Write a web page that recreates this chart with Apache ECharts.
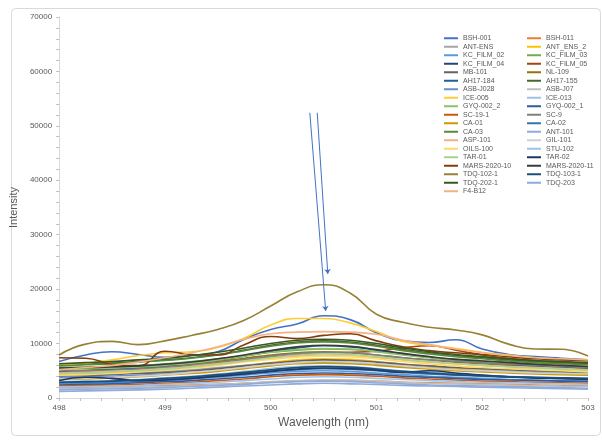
<!DOCTYPE html>
<html><head><meta charset="utf-8">
<script src="https://cdn.jsdelivr.net/npm/echarts@6/dist/echarts.min.js"></script>
<style>html,body{margin:0;padding:0;background:#fff}#c{width:602px;height:440px}</style>
</head><body><div id="c"></div>
<script>
const wavelengths = [498,498.25,498.5,498.75,499,499.25,499.5,499.75,500,500.25,500.5,500.75,501,501.25,501.5,501.75,502,502.25,502.5,502.75,503];
const xTicks = [498,499,500,501,502,503];
const yTicks = [0,10000,20000,30000,40000,50000,60000,70000];

const seriesNames = ["BSH-001","BSH-011","ANT-ENS","ANT_ENS_2","KC_FILM_02","KC_FILM_03","KC_FILM_04","KC_FILM_05","MB-101","NL-109","AH17-184","AH17-155","ASB-J028","ASB-J07","ICE-005","ICE-013","GYQ-002_2","GYQ-002_1","SC-19-1","SC-9","CA-01","CA-02","CA-03","ANT-101","ASP-101","GIL-101","OILS-100","STU-102","TAR-01","TAR-02","MARS-2020-10","MARS-2020-11","TDQ-102-1","TDQ-103-1","TDQ-202-1","TDQ-203","F4-B12"];
const seriesColors = ["#4472C4","#ED7D31","#A5A5A5","#FFC000","#5B9BD5","#70AD47","#264478","#9E480E","#636363","#997300","#255E91","#43682B","#698ED0","#BFBFBF","#FFCD33","#9DC3E6","#8CC168","#335AA1","#C55A11","#7F7F7F","#CC9A00","#2E75B6","#5A8A39","#8FAADC","#F4B183","#D0D0D0","#FFD966","#9DC3E6","#A9D18E","#1F3864","#843C0C","#3A3A3A","#958235","#1F4E79","#385723","#8FAADC","#F4B183"];

const BSH_001 = [6700,7900,8500,8000,7500,7800,8500,10800,12600,13600,15100,14400,12000,10500,10200,10700,9000,8000,7600,7300,7000];
const BSH_011 = [1900,2000,2100,2200,2300,2400,2500,2700,2900,3100,3200,3200,3100,2900,2800,2700,2600,2500,2400,2300,2200];
const ANT_ENS = [4300,4400,4500,4700,4900,5200,5600,6000,6400,6700,6800,6700,6400,6000,5700,5400,5200,5000,4800,4700,4500];
const ANT_ENS_2 = [3600,3700,3900,4100,4400,4800,5300,5900,6500,7000,7200,7100,6700,6200,5800,5400,5100,4800,4600,4400,4200];
const KC_FILM_02 = [2600,2700,2800,3000,3200,3500,3800,4200,4600,4900,5000,4900,4600,4300,4000,3800,3600,3400,3300,3200,3100];
const KC_FILM_03 = [5600,5700,5800,6000,6300,6700,7200,7800,8400,8800,9000,8900,8500,8000,7500,7100,6800,6500,6200,6000,5800];
const KC_FILM_04 = [3300,3900,3600,3300,3400,3700,4100,4600,5200,5600,5800,5600,5200,4800,4500,4300,4100,3900,3700,3600,3500];
const KC_FILM_05 = [4700,4800,4900,5100,5400,5800,6300,6900,7500,8000,8300,8400,8600,9200,9600,8800,7900,7300,6900,6600,6300];
const MB_101 = [4000,4100,4300,4500,4700,5000,5400,5900,6400,6800,7000,6900,6600,6200,5900,5600,5400,5200,5000,4900,4700];
const NL_109 = [5000,5100,5300,5500,5800,6200,6700,7300,7900,8300,8500,8300,7900,7400,7000,6600,6300,6000,5800,5600,5400];
const AH17_184 = [4900,5000,5200,5500,5900,6400,7000,7700,8500,9200,9600,9400,8800,8100,7500,7000,6600,6200,5900,5700,5500];
const AH17_155 = [6000,6200,6400,6700,7000,7400,8000,8800,9700,10300,10500,10300,9700,8900,8300,7800,7400,7000,6700,6500,6300];
const ASB_J028 = [3800,3900,4000,4200,4400,4700,5100,5600,6100,6500,6600,6500,6200,5800,5500,5200,5000,4800,4600,4500,4400];
const ASB_J07 = [1700,1800,1900,2000,2100,2300,2500,2700,3000,3200,3300,3300,3100,2900,2700,2600,2500,2400,2300,2200,2100];
const ICE_005 = [6000,6400,7000,7800,8300,8500,9300,11000,13400,14600,14600,13800,12200,10400,9700,9100,8400,7900,7400,7100,6700];
const ICE_013 = [3000,3100,3200,3400,3700,4000,4400,4900,5400,5800,5900,5800,5400,5000,4700,4400,4200,4000,3800,3700,3600];
const GYQ_002_2 = [5300,5400,5500,5700,6000,6400,7000,7700,8400,8900,9100,9000,8500,7900,7400,7000,6700,6400,6100,5900,5700];
const GYQ_002_1 = [2400,2500,2600,2800,3000,3200,3500,3800,4200,4500,4600,4500,4300,4000,3800,3600,3400,3300,3200,3100,3000];
const SC_19_1 = [2200,2300,2400,2500,2700,2900,3200,3500,3900,4200,4300,4200,4000,3700,3500,3300,3100,3000,2900,2800,2700];
const SC_9 = [5000,5000,5100,5300,5600,6000,6500,7100,7700,8200,8400,8300,7900,7400,7000,6700,6400,6200,6000,5800,5600];
const CA_01 = [3400,3500,3700,3900,4200,4500,4900,5400,5900,6300,6400,6300,6000,5600,5300,5000,4800,4600,4400,4300,4200];
const CA_02 = [2800,2900,3000,3200,3400,3700,4000,4400,4900,5200,5400,5300,5000,4700,4400,4200,4000,3800,3700,3600,3500];
const CA_03 = [5900,6100,6300,6600,6900,7300,7900,8700,9500,10100,10300,10100,9500,8700,8100,7600,7200,6800,6500,6300,6100];
const ANT_101 = [1500,1600,1700,1800,1900,2100,2300,2500,2800,3000,3100,3000,2800,2600,2400,2300,2200,2100,2000,1900,1800];
const ASP_101 = [4600,4700,4900,5100,5400,5800,6300,6800,7300,7700,7800,7700,7400,7000,6600,6300,6000,5800,5600,5400,5200];
const GIL_101 = [3500,3600,3800,4000,4300,4700,5100,5600,6100,6500,6700,6600,6300,5900,5500,5200,5000,4800,4600,4500,4400];
const OILS_100 = [4200,4300,4500,4800,5100,5500,6000,6600,7100,7500,7700,7600,7200,6700,6300,5900,5600,5400,5200,5000,4800];
const STU_102 = [2000,2100,2200,2300,2500,2700,2900,3200,3500,3800,3900,3800,3600,3400,3200,3000,2900,2800,2700,2600,2500];
const TAR_01 = [4500,4600,4800,5000,5300,5700,6200,6800,7400,7900,8100,8000,7600,7100,6700,6300,6000,5700,5500,5300,5100];
const TAR_02 = [3200,3800,3600,3200,3300,3600,4000,4400,4900,5300,5500,5400,5100,4700,5000,4600,4200,3900,3700,3600,3400];
const MARS_2020_10 = [7400,7300,6200,5900,8600,8000,7900,9800,11300,10900,11500,11800,10500,9400,8700,8300,8000,7600,7200,7000,6900];
const MARS_2020_11 = [5500,5600,5700,5900,6200,6600,7200,7900,8700,9400,9700,9500,8900,8200,7600,7100,6800,6500,6200,6000,5800];
const TDQ_102_1 = [7900,9900,10400,9800,10500,11500,12600,14300,16900,19500,20800,19300,15400,13900,13000,12500,11600,9900,9000,8950,7700];
const TDQ_103_1 = [2900,3000,3100,3300,3600,3900,4300,4700,5200,5600,5800,5700,5300,4900,4600,4300,4100,3900,3800,3700,3600];
const TDQ_202_1 = [6300,6500,6700,7000,7300,7800,8400,9200,10000,10600,10800,10600,10000,9200,8500,8000,7600,7200,6900,6700,6500];
const TDQ_203 = [1200,1300,1400,1500,1600,1800,2000,2200,2400,2600,2700,2600,2500,2300,2200,2100,2000,1900,1800,1700,1600];
const F4_B12 = [5200,5600,6000,6600,7400,8300,9400,10800,11800,12100,12200,12100,11700,10600,9800,9000,8300,7800,7400,7200,7000];

const seriesValues = [BSH_001,BSH_011,ANT_ENS,ANT_ENS_2,KC_FILM_02,KC_FILM_03,KC_FILM_04,KC_FILM_05,MB_101,NL_109,AH17_184,AH17_155,ASB_J028,ASB_J07,ICE_005,ICE_013,GYQ_002_2,GYQ_002_1,SC_19_1,SC_9,CA_01,CA_02,CA_03,ANT_101,ASP_101,GIL_101,OILS_100,STU_102,TAR_01,TAR_02,MARS_2020_10,MARS_2020_11,TDQ_102_1,TDQ_103_1,TDQ_202_1,TDQ_203,F4_B12];

// annotation arrows (data coordinates): [startX, startY, endX, endY]
const arrows = [[500.37,52400,500.52,16000],[500.44,52400,500.54,22800]];

const leftNames = seriesNames.filter((n,i)=>i%2===0);
const rightNames = seriesNames.filter((n,i)=>i%2===1);

const series = seriesNames.map((name,i)=>({
  name, type:'line', smooth:true, showSymbol:false, symbol:'none',
  data: wavelengths.map((w,j)=>[w, seriesValues[i][j]]),
  lineStyle:{width:1.6, color:seriesColors[i]}, itemStyle:{color:seriesColors[i]}
}));
series.push({
  name:'arrows', type:'line', data:[], silent:true,
  markLine:{silent:true, symbol:['none','arrow'], symbolSize:5,
    label:{show:false}, lineStyle:{color:'#4472C4', width:1, type:'solid'},
    data: arrows.map(a=>[{coord:[a[0],a[1]]},{coord:[a[2],a[3]]}])}
});

const legendCommon = {orient:'vertical', icon:'rect', itemWidth:14, itemHeight:2, itemGap:0,
  textStyle:{fontSize:7, lineHeight:8.5, color:'#595959', fontFamily:'Liberation Sans'}, selectedMode:false};

const chart = echarts.init(document.getElementById('c'), null, {renderer:'canvas'});
chart.setOption({
  animation:false,
  backgroundColor:'#fff',
  graphic:[{type:'rect', left:9, top:6, shape:{width:589, height:427, r:4}, style:{fill:'none', stroke:'#D9D9D9', lineWidth:1}, z:-1}],
  grid:{left:59, right:14, top:17, bottom:42},
  legend:[
    Object.assign({left:439, top:29, data:leftNames}, legendCommon),
    Object.assign({left:522, top:29, data:rightNames}, legendCommon)
  ],
  xAxis:{type:'value', min:xTicks[0], max:xTicks[xTicks.length-1], interval:1,
    name:'Wavelength (nm)', nameLocation:'middle', nameGap:19,
    nameTextStyle:{fontSize:12, color:'#595959', fontFamily:'Liberation Sans'},
    axisLine:{lineStyle:{color:'#D9D9D9'}}, axisTick:{show:true, length:3, lineStyle:{color:'#BFBFBF'}},
    minorTick:{show:true, splitNumber:5, length:3, lineStyle:{color:'#BFBFBF'}},
    splitLine:{show:false},
    axisLabel:{fontSize:8, color:'#595959', margin:6, fontFamily:'Liberation Sans', formatter:v=>String(v)}},
  yAxis:{type:'value', min:yTicks[0], max:yTicks[yTicks.length-1], interval:10000,
    name:'Intensity', nameLocation:'middle', nameGap:34,
    nameTextStyle:{fontSize:11, color:'#595959', fontFamily:'Liberation Sans'},
    axisLine:{show:true, lineStyle:{color:'#D9D9D9'}}, axisTick:{show:true, length:3, lineStyle:{color:'#BFBFBF'}},
    minorTick:{show:true, splitNumber:5, length:3, lineStyle:{color:'#BFBFBF'}},
    splitLine:{show:false},
    axisLabel:{fontSize:8, color:'#595959', margin:7, fontFamily:'Liberation Sans', formatter:v=>String(v)}},
  series
});
</script></body></html>
